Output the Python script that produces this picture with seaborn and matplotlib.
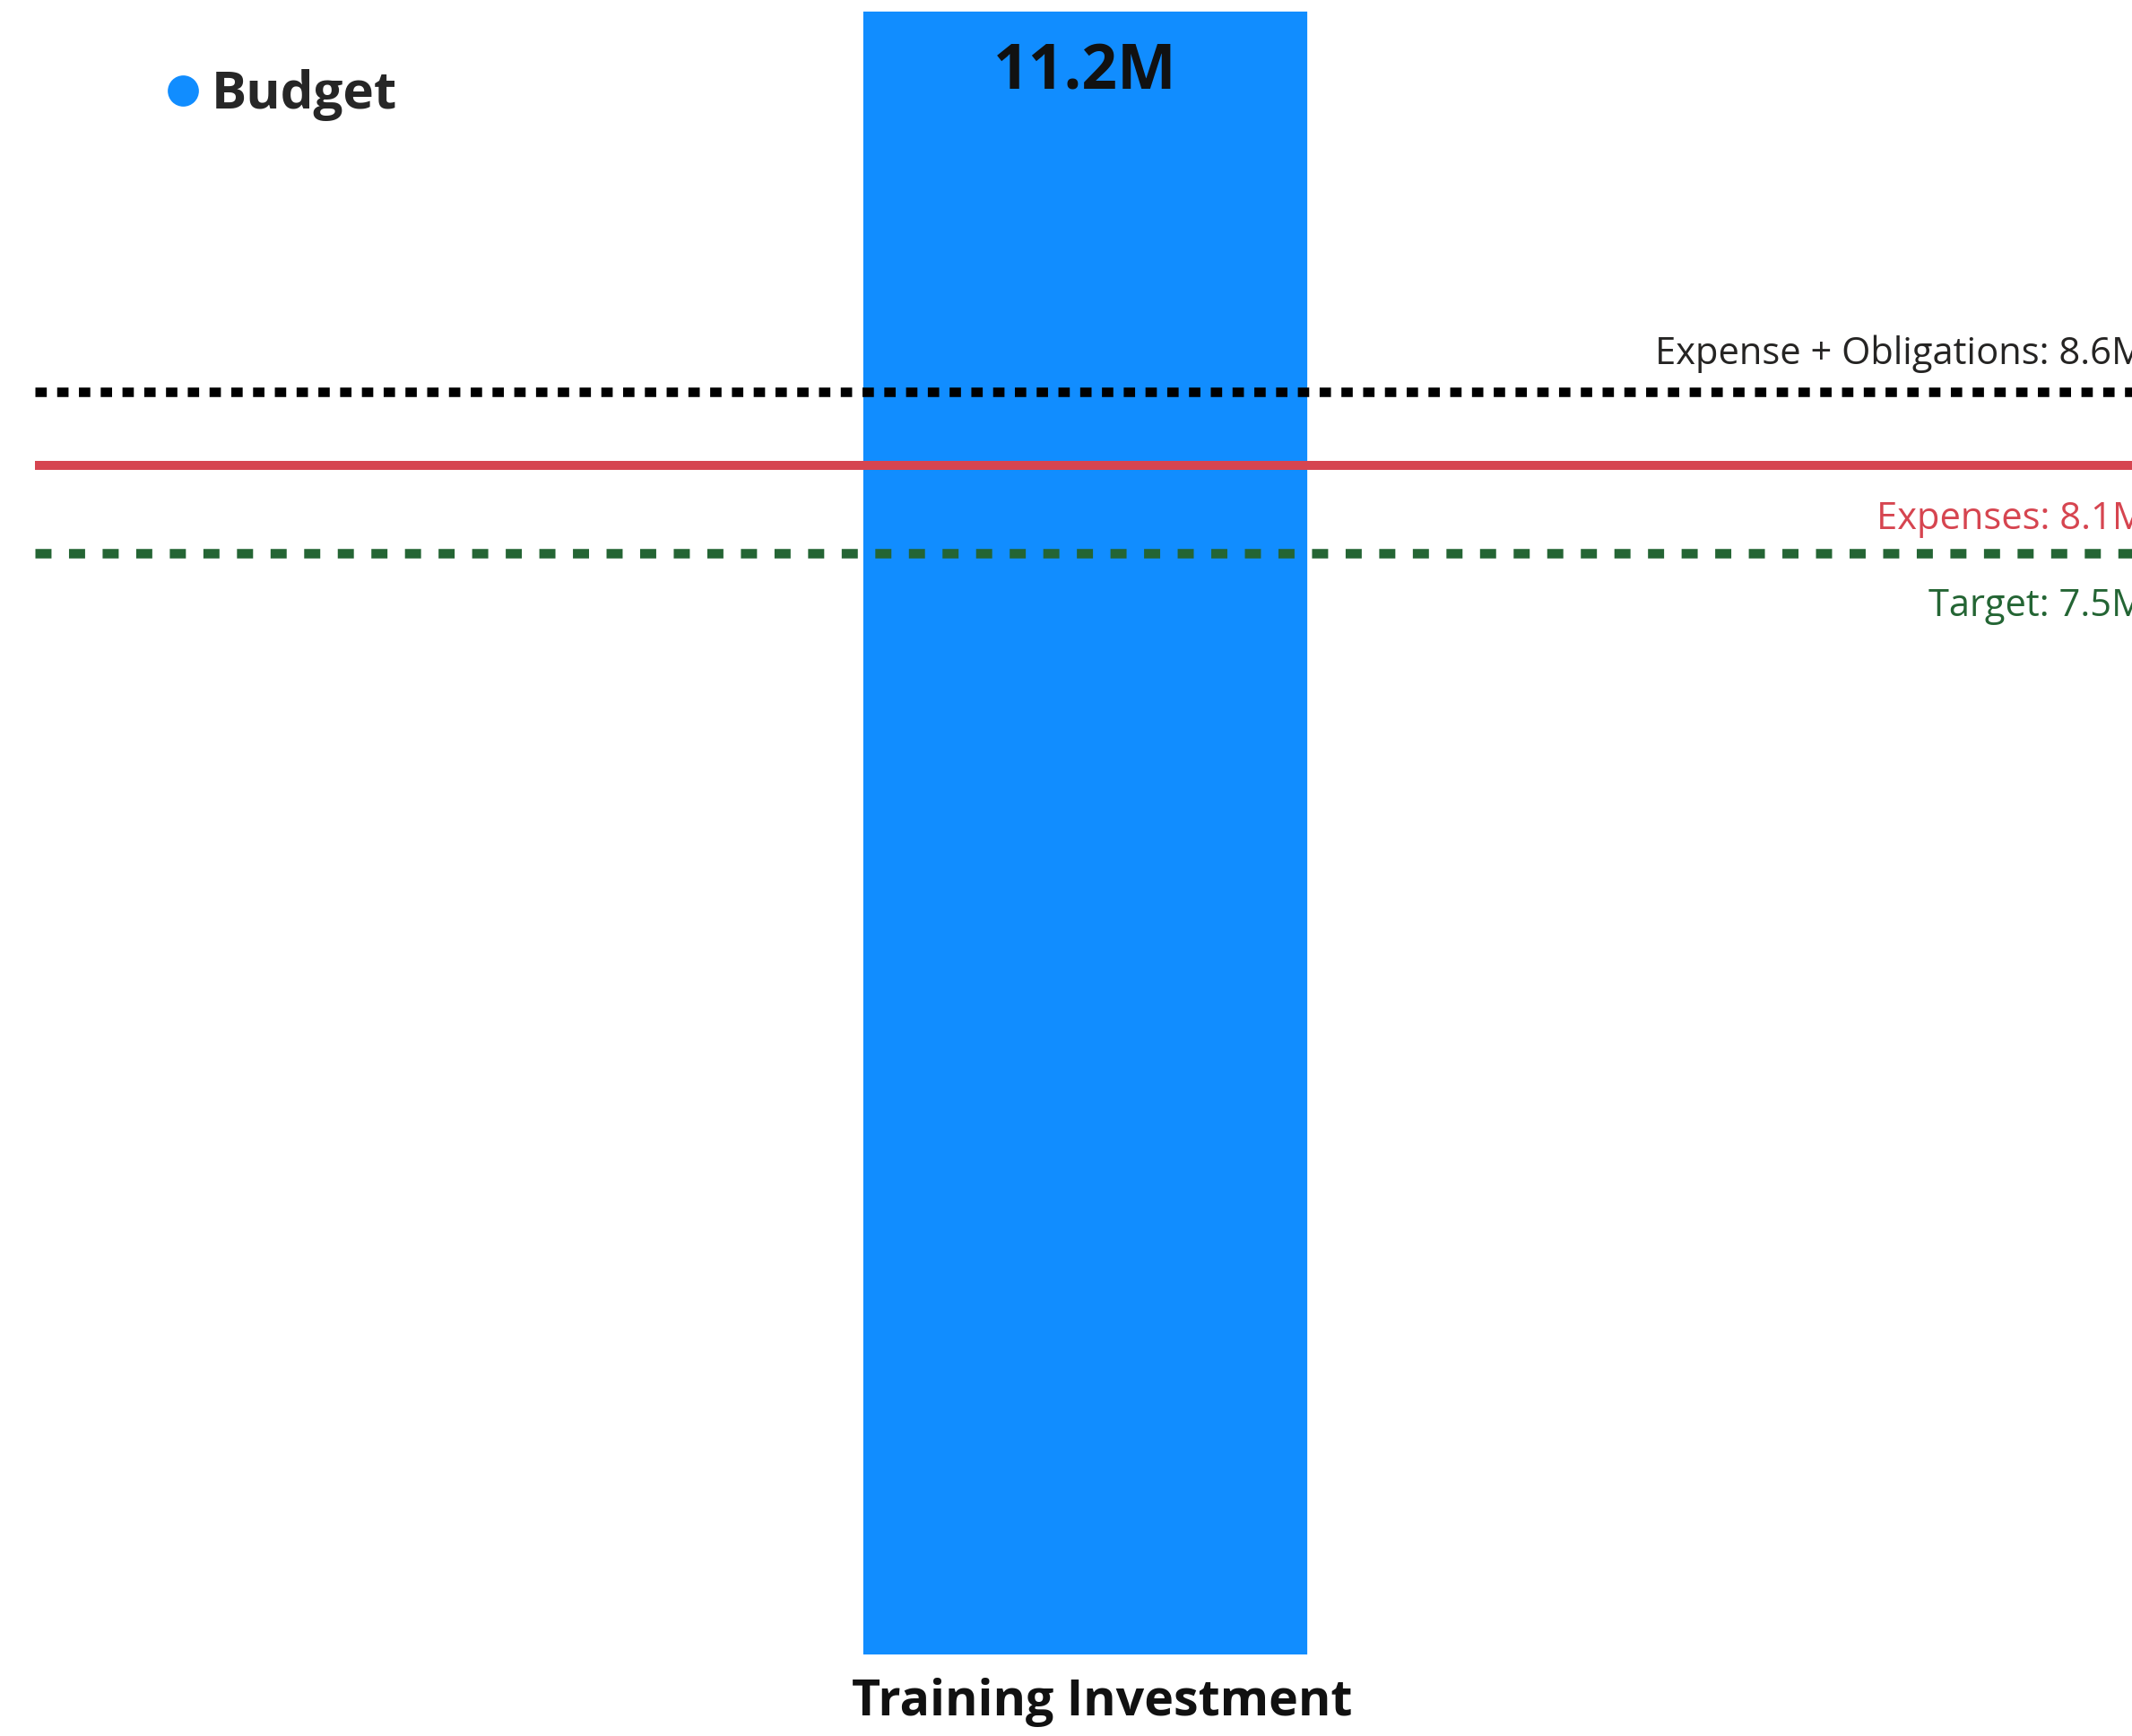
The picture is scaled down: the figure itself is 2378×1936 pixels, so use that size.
import matplotlib
matplotlib.use('Agg')
import matplotlib.pyplot as plt
import matplotlib.transforms as mtransforms
from matplotlib.lines import Line2D
import seaborn as sns
import pandas as pd

# data
categories = ['Training Investment']
budget = [11.2]
ref_names = ['Expense + Obligations', 'Expenses', 'Target']
ref_values = [8.6, 8.1, 7.5]

BAR = '#118DFF'
RED = '#D64550'
GREEN = '#246534'

sns.set_theme(style='white')
plt.rcParams['font.family'] = ['Open Sans', 'DejaVu Sans']

W, H, DPI = 2378, 1936, 200
fig = plt.figure(figsize=(W / DPI, H / DPI), dpi=DPI)
ax = fig.add_axes([39 / W, 1 - 1846 / H, (2381 - 39) / W, (1846 - 11) / H])

df = pd.DataFrame({'category': categories, 'budget': budget})
sns.barplot(data=df, x='category', y='budget', color=BAR, saturation=1,
            width=0.2126, ax=ax, zorder=1)
ax.set_xlim(-0.5, 0.5)
ax.set_ylim(0, 11.2)
sns.despine(ax=ax, left=True, bottom=True)
ax.set_yticks([])
ax.set_xlabel('')
ax.set_ylabel('')
ax.tick_params(axis='x', length=0, pad=9)
shift = mtransforms.ScaledTranslation(7 / 72, 0, fig.dpi_scale_trans)
for lbl in ax.get_xticklabels():
    lbl.set_fontsize(20)
    lbl.set_fontweight('bold')
    lbl.set_color('#111111')
    lbl.set_transform(lbl.get_transform() + shift)

# value label inside top of bar
for i, v in enumerate(budget):
    ax.annotate(f'{v:.1f}M', xy=(i, v), xytext=(0, -25), textcoords='offset points',
                ha='center', va='center', fontsize=25, fontweight='bold', color='#111111')

# reference lines
line_styles = [
    dict(color='black', lw=3.8, ls=(0, (1.2, 1.1))),
    dict(color=RED, lw=3.6, ls='-'),
    dict(color=GREEN, lw=3.8, ls=(0, (1.7, 1.85))),
]
text_colors = ['#252423', RED, GREEN]
text_dy = [11.2, -25.5, -25.2]
for name, val, st, tc, dy in zip(ref_names, ref_values, line_styles, text_colors, text_dy):
    ln = ax.axhline(val, xmax=1.03, zorder=3, clip_on=False, **st)
    ln.set_dash_capstyle('butt')
    ln.set_solid_capstyle('butt')
    ax.annotate(f'{name}: {val:.1f}M', xy=(1, val), xycoords=ax.get_yaxis_transform(),
                xytext=(4.3, dy), textcoords='offset points', ha='right', va='baseline',
                fontsize=15, color=tc, annotation_clip=False)

# legend
handle = Line2D([], [], marker='o', ls='', color=BAR, markersize=11.5)
leg = fig.legend([handle], ['Budget'], loc='center left', bbox_to_anchor=(157 / W, 1 - 106 / H),
                 frameon=False, borderpad=0, handlelength=0.6, handletextpad=0.25,
                 prop={'weight': 'bold', 'size': 21})

fig.savefig('out.png', dpi=DPI, facecolor='white')
